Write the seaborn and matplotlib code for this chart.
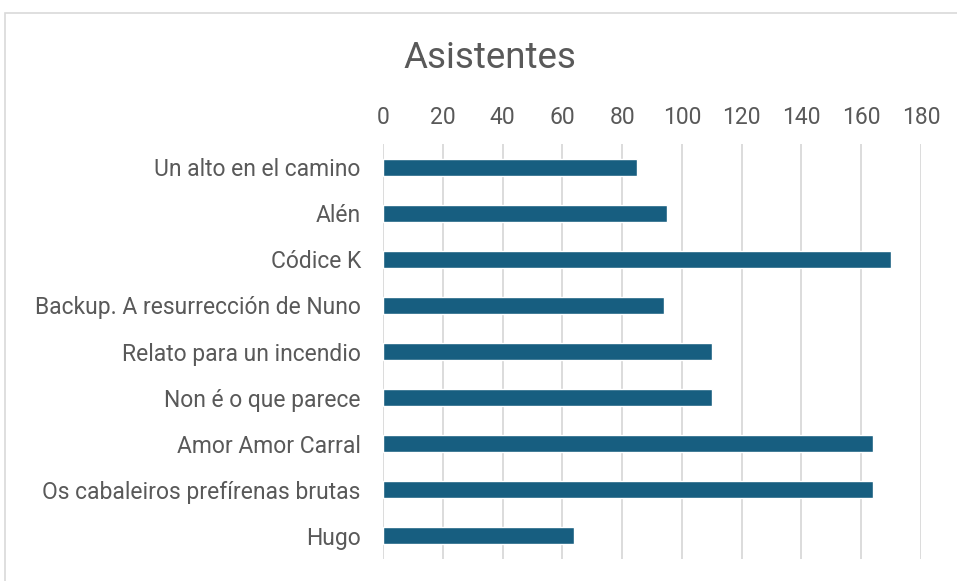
import matplotlib
matplotlib.use("Agg")
import matplotlib.pyplot as plt
import seaborn as sns
import pandas as pd
from matplotlib.patches import Rectangle

categories = ["Un alto en el camino", "Alén", "Códice K", "Backup. A resurrección de Nuno",
              "Relato para un incendio", "Non é o que parece", "Amor Amor Carral",
              "Os cabaleiros prefírenas brutas", "Hugo"]
values = [85, 95, 170, 94, 110, 110, 164, 164, 64]
xticks = [0, 20, 40, 60, 80, 100, 120, 140, 160, 180]

df = pd.DataFrame({"cat": categories, "val": values})

sns.set_theme(style="white")
plt.rcParams["font.family"] = ["Roboto", "DejaVu Sans"]

W, H = 957, 581
fig = plt.figure(figsize=(W / 100, H / 100), dpi=100)
left, right, top, bottom = 383, 921, 144, 559
ax = fig.add_axes([left / W, 1 - bottom / H, (right - left) / W, (bottom - top) / H])

sns.barplot(data=df, y="cat", x="val", orient="h", color="#175E80", width=0.37,
            saturation=1, ax=ax, order=categories)

ax.set_xlim(0, 180)
ax.set_ylim(len(categories) - 0.5, -0.5)
ax.set_xticks(xticks)
ax.xaxis.tick_top()
ax.xaxis.set_label_position("top")
ax.tick_params(axis="both", length=0, labelsize=16.5, labelcolor="#595959")
ax.tick_params(axis="y", pad=16)
ax.tick_params(axis="x", pad=11)
ax.set_xlabel("")
ax.set_ylabel("")
ax.grid(axis="x", color="#D9D9D9", linewidth=1.3)
ax.set_axisbelow(True)
for s in ax.spines.values():
    s.set_visible(False)

fig.text(490 / W, 1 - 58 / H, "Asistentes", ha="center", va="center",
         fontsize=26.5, color="#595959")

fig.patches.append(Rectangle((5 / W, -0.05), 1.1, 1 - 13 / H + 0.05, transform=fig.transFigure,
                             fill=False, edgecolor="#D9D9D9", linewidth=1.2))

fig.savefig("out.png", dpi=100, facecolor="white")
